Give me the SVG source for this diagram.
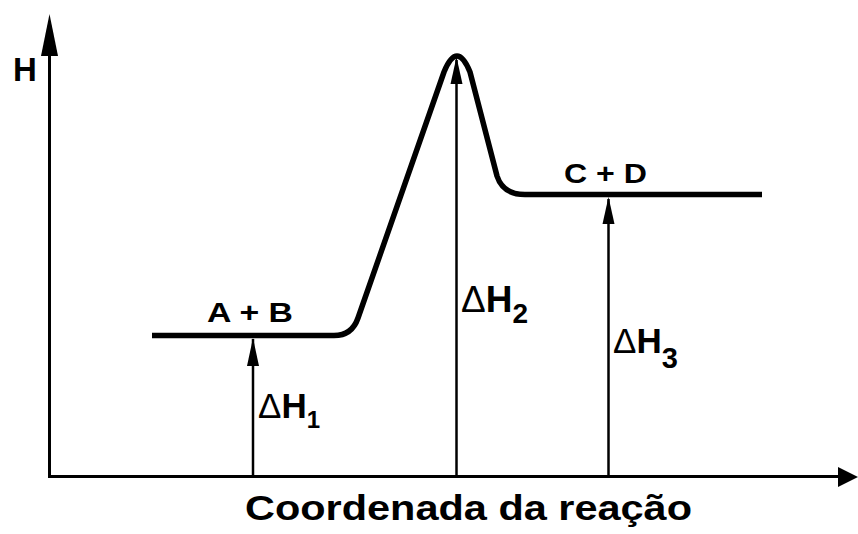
<svg xmlns="http://www.w3.org/2000/svg" width="858" height="534" viewBox="0 0 858 534">
<style>
.lbl{font-family:"Liberation Sans",Arial,sans-serif;font-weight:bold;fill:#000}
.dl{font-family:"Liberation Sans",Arial,sans-serif;fill:#000}
.axis{stroke:#000;stroke-width:3;fill:none}
.dh{stroke:#000;stroke-width:2.5;fill:none}
.curve{stroke:#000;stroke-width:5.5;fill:none;stroke-linejoin:round;stroke-linecap:butt}
</style>
<rect width="858" height="534" fill="#fff"/>
<g id="axes">
<line class="axis" x1="49.5" y1="478" x2="49.5" y2="50"/>
<polygon points="41,56 58,56 49.5,14" fill="#000"/>
<line class="axis" x1="48" y1="476.5" x2="842" y2="476.5"/>
<polygon points="838,467 838,487 858,477" fill="#000"/>
<text id="ylabel" class="lbl" x="13" y="81" font-size="33">H</text>
<text id="xlabel" class="lbl" x="245" y="520" font-size="35" textLength="447" lengthAdjust="spacingAndGlyphs">Coordenada da reação</text>
</g>
<g id="curve">
<path class="curve" d="M152,335.5 L334,335.5 Q352,335.5 358,318 L444,72 Q457,40 470,72 L497,176 Q503,194.5 525,194.5 L762,194.5"/>
</g>
<g id="reactants">
<text class="lbl" x="207" y="322" font-size="27" textLength="86" lengthAdjust="spacingAndGlyphs">A + B</text>
</g>
<g id="products">
<text class="lbl" x="564" y="183" font-size="27" textLength="83" lengthAdjust="spacingAndGlyphs">C + D</text>
</g>
<g id="connectors">
<path class="dh" d="M253,476 L253,339"/>
<polygon points="253,338 259,366 247,366" fill="#000"/>
<path class="dh" d="M456.5,476 L456.5,60"/>
<polygon points="456.5,57 462.5,84 450.5,84" fill="#000"/>
<path class="dh" d="M608.5,476 L608.5,199"/>
<polygon points="608.5,197 614.5,224 602.5,224" fill="#000"/>
</g>
<g id="dh1">
<text class="dl" x="258" y="418" font-size="35">Δ<tspan class="lbl">H</tspan><tspan class="lbl" font-size="24" dy="10">1</tspan></text>
</g>
<g id="dh2">
<text class="dl" x="461" y="312" font-size="37">Δ<tspan class="lbl">H</tspan><tspan class="lbl" font-size="28" dy="11">2</tspan></text>
</g>
<g id="dh3">
<text class="dl" x="613" y="353" font-size="35">Δ<tspan class="lbl">H</tspan><tspan class="lbl" font-size="29" dy="15">3</tspan></text>
</g>
</svg>
